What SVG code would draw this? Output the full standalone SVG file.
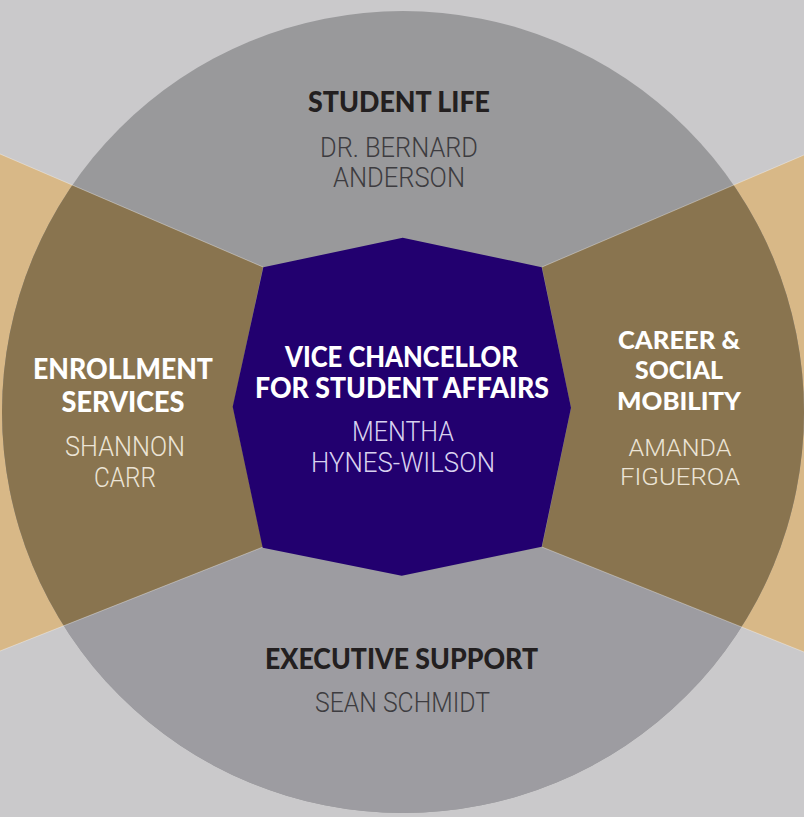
<svg xmlns="http://www.w3.org/2000/svg" width="804" height="817" viewBox="0 0 804 817">
<defs>
<clipPath id="circ"><circle cx="403" cy="412" r="401"/></clipPath>
<style>
.h{font-family:Lato,Roboto,"Liberation Sans",sans-serif;font-weight:900;font-size:28px;text-anchor:middle}
.n{font-family:Roboto,Lato,"Liberation Sans",sans-serif;font-weight:300;font-size:27px;text-anchor:middle}
.hs{font-size:25px}
.ns{font-size:24px}
.dark{fill:#231f20}
.white{fill:#ffffff}
.gn{fill:#3d3c40}
.bn{fill:#ece4d6}
.pn{fill:#d9d2ef}
.edge{stroke:#ffffff;stroke-opacity:0.35;stroke-width:1;fill:none}
</style>
</defs>
<rect width="804" height="817" fill="#cac9cb"/>
<g id="outer-wedges">
<polygon points="0,154 263,267 233,407 263,547 0,651" fill="#d8b887"/>
<polygon points="804,155 542,267 571,408 542,547 804,652" fill="#d8b887"/>
</g>
<g id="student-life">
<circle cx="403" cy="412" r="401" fill="#99999b"/>
<text class="h dark" x="399" y="112" textLength="182" lengthAdjust="spacingAndGlyphs">STUDENT LIFE</text>
<text class="n gn" x="399" y="157" textLength="158" lengthAdjust="spacingAndGlyphs">DR. BERNARD</text>
<text class="n gn" x="399" y="187" textLength="132" lengthAdjust="spacingAndGlyphs">ANDERSON</text>
</g>
<g id="executive-support">
<polygon clip-path="url(#circ)" points="263,547 402,576 542,547 804,652 804,817 0,817 0,651" fill="#9d9ca1"/>
<text class="h dark" x="401.5" y="669" textLength="273" lengthAdjust="spacingAndGlyphs">EXECUTIVE SUPPORT</text>
<text class="n gn" x="402.5" y="712" textLength="175" lengthAdjust="spacingAndGlyphs">SEAN SCHMIDT</text>
</g>
<g id="enrollment-services">
<polygon clip-path="url(#circ)" points="263,267 233,407 263,547 0,651 0,154" fill="#89744f"/>
<text class="h white" x="123" y="379" textLength="180" lengthAdjust="spacingAndGlyphs">ENROLLMENT</text>
<text class="h white" x="123" y="412" textLength="123" lengthAdjust="spacingAndGlyphs">SERVICES</text>
<text class="n bn" x="125" y="456" textLength="120" lengthAdjust="spacingAndGlyphs">SHANNON</text>
<text class="n bn" x="125" y="487" textLength="62" lengthAdjust="spacingAndGlyphs">CARR</text>
</g>
<g id="career-social-mobility">
<polygon clip-path="url(#circ)" points="542,267 571,408 542,547 804,652 804,155" fill="#89744f"/>
<text class="h hs white" x="679" y="349" textLength="122" lengthAdjust="spacingAndGlyphs">CAREER &amp;</text>
<text class="h hs white" x="679" y="379" textLength="88" lengthAdjust="spacingAndGlyphs">SOCIAL</text>
<text class="h hs white" x="679" y="410" textLength="124" lengthAdjust="spacingAndGlyphs">MOBILITY</text>
<text class="n ns bn" x="680" y="456" textLength="103" lengthAdjust="spacingAndGlyphs">AMANDA</text>
<text class="n ns bn" x="680" y="485" textLength="120" lengthAdjust="spacingAndGlyphs">FIGUEROA</text>
</g>
<g id="dividers">
<polyline class="edge" points="0,154 263,267"/>
<polyline class="edge" points="804,155 542,267"/>
<polyline class="edge" points="0,651 263,547"/>
<polyline class="edge" points="804,652 542,547"/>
</g>
<g id="vice-chancellor">
<polygon points="402.7,237.7 541.7,267.3 571,407.7 541.7,546.7 401.7,575.7 262.7,547.7 232.7,406.7 263.3,267.3" fill="#22006f"/>
<text class="h white" x="401.5" y="367" textLength="233" lengthAdjust="spacingAndGlyphs">VICE CHANCELLOR</text>
<text class="h white" x="402" y="398" textLength="294" lengthAdjust="spacingAndGlyphs">FOR STUDENT AFFAIRS</text>
<text class="n pn" x="403" y="441" textLength="102" lengthAdjust="spacingAndGlyphs">MENTHA</text>
<text class="n pn" x="403" y="472" textLength="184" lengthAdjust="spacingAndGlyphs">HYNES-WILSON</text>
</g>
</svg>
